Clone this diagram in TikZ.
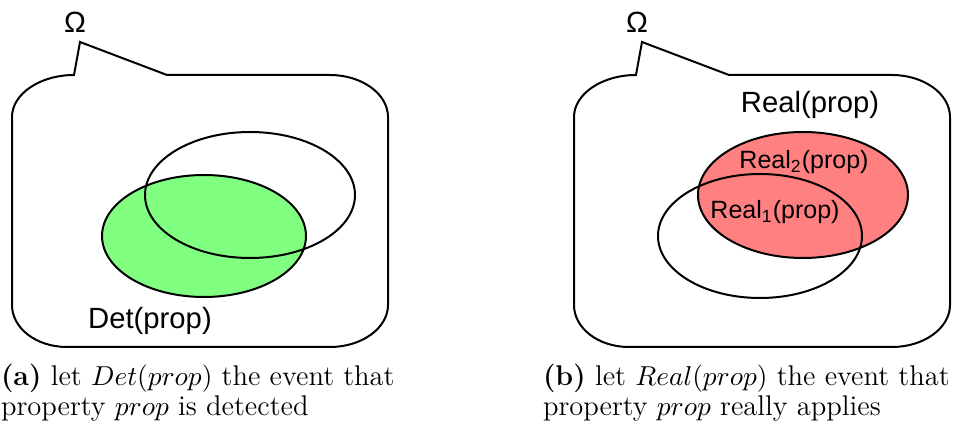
\documentclass[tikz,border=0pt]{standalone}
\usepackage{fontspec}
\usepackage{tikz}
\newfontfamily\arialfont{Liberation Sans}
\definecolor{detgreen}{HTML}{80FF80}
\definecolor{realred}{HTML}{FF8080}

\begin{document}
\begin{tikzpicture}[x=0.4pt, y=-0.4pt, line width=0.8pt,
  setlabel/.style={font=\arialfont\fontsize{11.7}{14}\selectfont, inner sep=0pt},
  sublabel/.style={font=\arialfont\fontsize{10}{12}\selectfont, inner sep=0pt},
  subcap/.style={font=\fontsize{11.4}{12}\selectfont, align=left, anchor=north west, inner sep=0pt}]
  \useasboundingbox (0,0) rectangle (968,432);
  % sample space with its callout, one per panel
  \foreach \dx/\nm in {0/a, 562/b} {
    \draw[shift={(\dx,0)}] (74,75) -- (80,42) -- (167,75) -- (330,75)
      .. controls (362,75) and (388,94) .. (388,117) -- (388,305)
      .. controls (388,328) and (362,347) .. (330,347) -- (67,347)
      .. controls (36,347) and (12,328) .. (12,305) -- (12,117)
      .. controls (12,94) and (40,75) .. (74,75) -- cycle;
    \node[setlabel] (omega-\nm) at (\dx+75,22) {Ω};
  }
  % (a) detected
  \filldraw[fill=detgreen] (204,236) ellipse [x radius=102, y radius=61];
  \draw (250,195) ellipse [x radius=105, y radius=63];
  \node[setlabel] (det) at (150,321) {Det(prop)};
  % (b) really applies
  \filldraw[fill=realred] (803,195) ellipse [x radius=105, y radius=63];
  \draw (760,236) ellipse [x radius=102, y radius=62];
  \node[setlabel] (real) at (810,105) {Real(prop)};
  \node[sublabel] (real2) at (804,162) {Real\textsubscript{2}(prop)};
  \node[sublabel] (real1) at (775,212) {Real\textsubscript{1}(prop)};
  % subcaptions
  \node[subcap] (cap-a) at (0,363) {\textbf{(a)} let $Det(prop)$ the event that\\property $prop$ is detected};
  \node[subcap] (cap-b) at (542,363) {\textbf{(b)} let $Real(prop)$ the event that\\property $prop$ really applies};
\end{tikzpicture}
\end{document}
